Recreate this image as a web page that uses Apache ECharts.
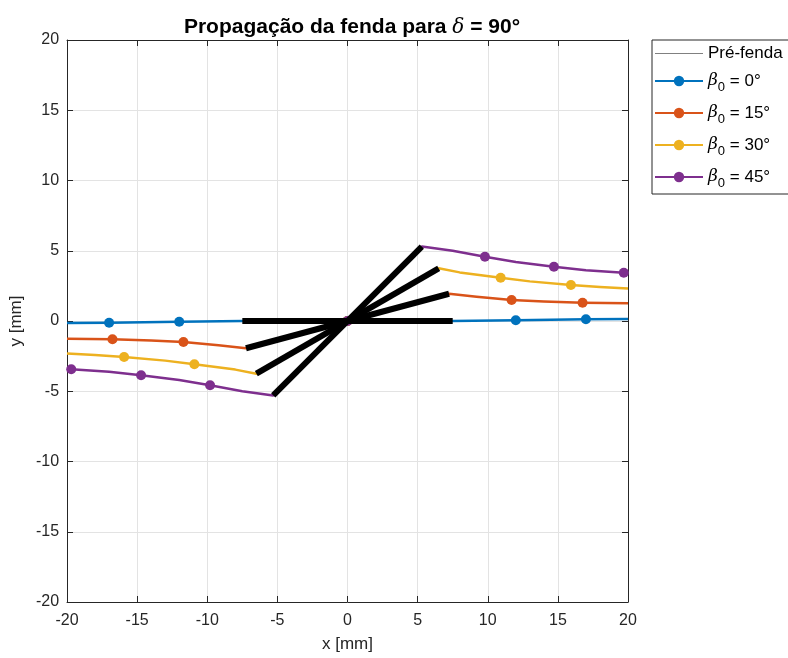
<!DOCTYPE html>
<html>
<head>
<meta charset="utf-8">
<script src="https://cdn.jsdelivr.net/npm/echarts@6/dist/echarts.min.js"></script>
<style>html,body{margin:0;padding:0;background:#fff}#c{width:788px;height:658px}</style>
</head>
<body>
<div id="c"></div>
<script>
// ---- data ----
const xTicks = [-20, -15, -10, -5, 0, 5, 10, 15, 20];
const yTicks = [-20, -15, -10, -5, 0, 5, 10, 15, 20];

// Pre-crack segments (endpoints)
const crackX0 = [-7.5, 7.5];   const crackY0 = [0, 0];
const crackX15 = [-7.24, 7.24]; const crackY15 = [-1.94, 1.94];
const crackX30 = [-6.5, 6.5];  const crackY30 = [-3.75, 3.75];
const crackX45 = [-5.3, 5.3];  const crackY45 = [-5.3, 5.3];

// beta0 = 0
const b0X = [-20, -17, -12, -7.5, 0, 7.5, 12, 17, 20];
const b0Y = [-0.14, -0.12, -0.05, 0, 0, 0, 0.05, 0.12, 0.14];
const b0M = [-17, -12, 0, 12, 17];
// beta0 = 15
const b15X = [-20, -16.76, -14, -11.7, -9.2, -7.24, 0, 7.24, 9.2, 11.7, 14, 16.76, 20];
const b15Y = [-1.26, -1.30, -1.39, -1.49, -1.73, -1.94, 0, 1.94, 1.73, 1.49, 1.39, 1.30, 1.26];
const b15M = [-16.76, -11.7, 0, 11.7, 16.76];
// beta0 = 30
const b30X = [-20, -18, -15.93, -13, -10.92, -8, -6.5, 0, 6.5, 8, 10.92, 13, 15.93, 18, 20];
const b30Y = [-2.32, -2.42, -2.56, -2.82, -3.08, -3.46, -3.75, 0, 3.75, 3.46, 3.08, 2.82, 2.56, 2.42, 2.32];
const b30M = [-15.93, -10.92, 0, 10.92, 15.93];
// beta0 = 45
const b45X = [-20, -19.7, -17, -14.72, -12, -9.8, -7.5, -5.3, 0, 5.3, 7.5, 9.8, 12, 14.72, 17, 19.7, 20];
const b45Y = [-3.41, -3.43, -3.62, -3.86, -4.2, -4.57, -5.0, -5.3, 0, 5.3, 5.0, 4.57, 4.2, 3.86, 3.62, 3.43, 3.41];
const b45M = [-19.7, -14.72, -9.8, 0, 9.8, 14.72, 19.7];

const seriesNames = ['β0 = 0°', 'β0 = 15°', 'β0 = 30°', 'β0 = 45°'];
const colors = ['#0072BD', '#D95319', '#EDB120', '#7E2F8E'];

// ---- build ----
function pts(xs, ys, marks) {
  return xs.map((x, i) => {
    const item = { value: [x, ys[i]] };
    if (!marks || marks.indexOf(x) < 0) item.symbol = 'none';
    return item;
  });
}
const font = 'Liberation Sans, Arial, Helvetica, sans-serif';
const axCol = '#262626';

const curves = [[b0X, b0Y, b0M], [b15X, b15Y, b15M], [b30X, b30Y, b30M], [b45X, b45Y, b45M]];
const cracks = [[crackX0, crackY0], [crackX15, crackY15], [crackX30, crackY30], [crackX45, crackY45]];

const series = [];
curves.forEach((c, i) => {
  series.push({
    name: seriesNames[i], type: 'line', xAxisIndex: 0, yAxisIndex: 0,
    data: pts(c[0], c[1], c[2]),
    symbol: 'circle', symbolSize: 10, showAllSymbol: true,
    smooth: false,
    lineStyle: { color: colors[i], width: 2.5, join: 'round' },
    itemStyle: { color: colors[i] },
    z: 3, animation: false
  });
});
cracks.forEach((c) => {
  series.push({
    name: 'Pré-fenda', type: 'line', xAxisIndex: 0, yAxisIndex: 0,
    data: pts(c[0], c[1], null), symbol: 'none',
    lineStyle: { color: '#000', width: 6, cap: 'butt' },
    itemStyle: { color: '#000' },
    z: 5, animation: false
  });
});

function xAx(pos, show) {
  return {
    type: 'value', position: pos, min: -20, max: 20, interval: 5,
    axisLine: { show: true, onZero: false, lineStyle: { color: axCol, width: 1 } },
    axisTick: { show: true, inside: true, length: 6, lineStyle: { color: axCol } },
    axisLabel: { show: show, color: axCol, fontSize: 16, fontFamily: font, margin: 11 },
    splitLine: { show: show, lineStyle: { color: '#e3e3e3', width: 1 } },
    name: show ? 'x [mm]' : '', nameLocation: 'middle', nameGap: 34,
    nameTextStyle: { color: axCol, fontSize: 17, fontFamily: font }
  };
}
function yAx(pos, show) {
  return {
    type: 'value', position: pos, min: -20, max: 20, interval: 5,
    axisLine: { show: true, onZero: false, lineStyle: { color: axCol, width: 1 } },
    axisTick: { show: true, inside: true, length: 6, lineStyle: { color: axCol } },
    axisLabel: { show: show, color: axCol, fontSize: 16, fontFamily: font, margin: 8 },
    splitLine: { show: show, lineStyle: { color: '#e3e3e3', width: 1 } },
    name: show ? 'y [mm]' : '', nameLocation: 'middle', nameGap: 36, nameRotate: 90,
    nameTextStyle: { color: axCol, fontSize: 17, fontFamily: font }
  };
}

const chart = echarts.init(document.getElementById('c'), null, { renderer: 'canvas' });
chart.setOption({
  backgroundColor: '#fff',
  animation: false,
  title: {
    text: 'Propagação da fenda para {d|δ} = 90°',
    left: 347, top: 12, textAlign: 'center',
    textStyle: {
      fontFamily: font, fontSize: 21, fontWeight: 'bold', color: '#000',
      rich: { d: { fontFamily: 'DejaVu Serif', fontStyle: 'italic', fontSize: 20, fontWeight: 'normal', color: '#000' } }
    }
  },
  grid: { left: 67, top: 40, width: 561, height: 563, containLabel: false },
  xAxis: [xAx('bottom', true), xAx('top', false)],
  yAxis: [yAx('left', true), yAx('right', false)],
  legend: {
    orient: 'vertical', left: 652, top: 40,
    backgroundColor: '#fff', borderColor: axCol, borderWidth: 1, borderRadius: 0,
    padding: [5, 14, 4, 2], itemGap: 6, itemWidth: 48, itemHeight: 13,
    data: [
      { name: 'Pré-fenda', icon: 'path://M0,0H48V1.2H0Z', itemStyle: { color: '#808080' } },
      seriesNames[0], seriesNames[1], seriesNames[2], seriesNames[3]
    ],
    formatter: function (n) {
      if (n.indexOf('β0') === 0) return '{b|β}{s|0}{t|' + n.slice(2) + '}';
      return '{t|' + n + '}';
    },
    textStyle: {
      color: '#000', fontFamily: font, fontSize: 17,
      rich: {
        t: { fontFamily: font, fontSize: 17, color: '#000', lineHeight: 22 },
        b: { fontFamily: 'DejaVu Serif', fontStyle: 'italic', fontSize: 17, color: '#000', lineHeight: 22 },
        s: { fontFamily: font, fontSize: 13, color: '#000', padding: [13, 0, 0, 0], lineHeight: 22 }
      }
    }
  },
  series: series
});
</script>
</body>
</html>
